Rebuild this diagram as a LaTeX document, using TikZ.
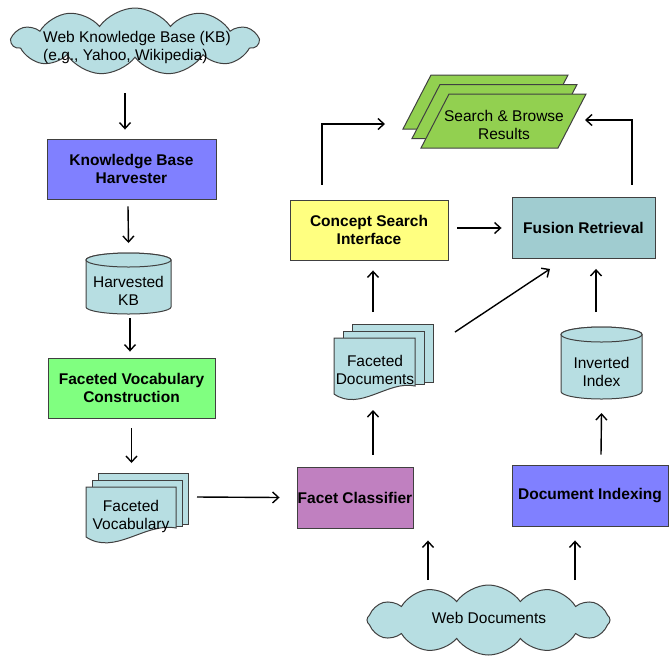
\documentclass[tikz,border=0pt]{standalone}
\usepackage{fontspec}
\setmainfont{Liberation Sans}
\usetikzlibrary{shapes.symbols,arrows.meta}
\definecolor{kbblue}{HTML}{8080FF}
\definecolor{vgreen}{HTML}{80FF80}
\definecolor{cyellow}{HTML}{FFFF80}
\definecolor{fpurple}{HTML}{C080C0}
\definecolor{fteal}{HTML}{A0CCD0}
\definecolor{lteal}{HTML}{B7DEE2}
\definecolor{rgreen}{HTML}{92D050}
\definecolor{edgegray}{HTML}{404040}
\tikzset{
 procbox/.style={draw=edgegray, line width=0.9pt, font=\fontsize{15.5}{18}\selectfont\bfseries, align=center, inner sep=0pt},
 plain/.style={font=\fontsize{15.5}{18}\selectfont, align=center, inner sep=0pt},
 shapeline/.style={draw=edgegray, line width=1pt, fill=lteal},
 bound/.style={inner sep=0pt, outer sep=0pt, draw=none},
 arr/.style={-{Straight Barb[length=6pt,width=11pt]}, line width=1.4pt, black},
 cloudy/.style={cloud, cloud puffs=11, cloud puff arc=110, aspect=3.6, draw=edgegray, line width=1pt, fill=lteal, inner sep=0pt},
 pgram/.style={draw=edgegray, line width=1pt, fill=rgreen},
}
\begin{document}
\begin{tikzpicture}[x=1pt,y=-1pt]
\useasboundingbox (0,0) rectangle (669,657);

% top cloud
\node[cloudy, minimum width=246pt, minimum height=67pt] (kbweb) at (135,41.5) {};
\node[plain, align=left, anchor=west] (kbwebtext) at (43,47) {Web Knowledge Base (KB)\\(e.g., Yahoo, Wikipedia)};

% process boxes
\node[procbox, fill=kbblue, minimum width=169pt, minimum height=60pt] (kbh) at (131.5,169) {Knowledge Base\\Harvester};
\node[procbox, fill=vgreen, minimum width=167pt, minimum height=60pt] (fvc) at (131.5,388) {Faceted Vocabulary\\Construction};
\node[procbox, fill=fpurple, minimum width=116pt, minimum height=61pt] (fc) at (355,497.5) {Facet Classifier};
\node[procbox, fill=kbblue, minimum width=156pt, minimum height=61pt] (di) at (590,495.5) {Document Indexing};
\node[procbox, fill=fteal, minimum width=143pt, minimum height=61pt] (fr) at (583.5,228) {Fusion Retrieval};
\node[procbox, fill=cyellow, minimum width=158pt, minimum height=60pt] (csi) at (369,230) {Concept Search\\Interface};

% Harvested KB cylinder
\draw[shapeline] (86,260) -- (86,307) arc[start angle=180,end angle=360,x radius=42.5pt,y radius=7pt] -- (171,260) arc[start angle=0,end angle=180,x radius=42.5pt,y radius=7pt] -- cycle;
\draw[shapeline] (128.5,260) ellipse [x radius=42.5pt,y radius=7pt];
\node[bound, minimum width=85pt, minimum height=61pt] (hkb) at (128.5,283.5) {};
\node[plain] (hkbtext) at (128.5,291) {Harvested\\KB};

% Inverted Index cylinder
\draw[shapeline] (561,334.5) -- (561,391.5) arc[start angle=180,end angle=360,x radius=40.5pt,y radius=7.5pt] -- (642,334.5) arc[start angle=0,end angle=180,x radius=40.5pt,y radius=7.5pt] -- cycle;
\draw[shapeline] (601.5,334.5) ellipse [x radius=40.5pt,y radius=7.5pt];
\node[bound, minimum width=81pt, minimum height=72pt] (ii) at (601.5,363) {};
\node[plain] (iitext) at (601.5,371.5) {Inverted\\Index};

% Faceted Vocabulary multi-document
\draw[shapeline] (98,473) rectangle (188,524);
\draw[shapeline] (92,480) rectangle (182,526);
\draw[shapeline] (86,487) -- (176,487) -- (176,528) .. controls (145,522) and (115,556) .. (86,537) -- cycle;
\node[bound, minimum width=102pt, minimum height=70pt] (fv) at (137,508) {};
\node[plain] (fvtext) at (131,516) {Faceted\\Vocabulary};

% Faceted Documents multi-document
\draw[shapeline] (352,324) rectangle (433,382);
\draw[shapeline] (343,331) rectangle (424,384);
\draw[shapeline] (334,338) -- (415,338) -- (415,386) .. controls (388,380) and (360,412) .. (334,394) -- cycle;
\node[bound, minimum width=99pt, minimum height=76pt] (fd) at (383.5,362) {};
\node[plain] (fdtext) at (375,369.5) {Faceted\\Documents};

% Search & Browse Results stacked parallelograms
\draw[pgram] (403,129) -- (540,129) -- (568,75) -- (431,75) -- cycle;
\draw[pgram] (412,138.5) -- (549,138.5) -- (577,84.5) -- (440,84.5) -- cycle;
\draw[pgram] (421,148) -- (558,148) -- (586,94) -- (449,94) -- cycle;
\node[bound, minimum width=183pt, minimum height=73pt] (sbr) at (494.5,111.5) {};
\node[plain] (sbrtext) at (504,125) {Search \& Browse\\Results};

% Web Documents cloud
\node[cloudy, cloud puffs=12, minimum width=243pt, minimum height=70pt] (webdocs) at (488.5,620) {};
\node[plain] (webdocstext) at (489,618) {Web Documents};

% connectors
\draw[arr] ([xshift=-10pt,yshift=-51.5pt]kbweb.center) -- ([xshift=-6.5pt,yshift=9pt]kbh.north);
\draw[arr] ([xshift=-3.5pt,yshift=-7pt]kbh.south) -- ([yshift=10pt]hkb.north);
\draw[arr] ([xshift=1.5pt,yshift=-4pt]hkb.south) -- ([xshift=-1.5pt,yshift=6pt]fvc.north);
\draw[arr] ([yshift=-10pt]fvc.south) -- ([xshift=-5.5pt,yshift=10pt]fv.north);
\draw[arr] ([xshift=9pt,yshift=11pt]fv.east) -- ([xshift=-17pt]fc.west);
\draw[arr] ([xshift=-60.5pt,yshift=40pt]webdocs.center) -- ([xshift=73pt,yshift=-12pt]fc.south);
\draw[arr] ([xshift=86.5pt,yshift=40pt]webdocs.center) -- ([xshift=-15pt,yshift=-14pt]di.south);
\draw[arr] ([xshift=11pt,yshift=10pt]di.north) -- ([yshift=-14pt]ii.south);
\draw[arr] ([xshift=-5.5pt,yshift=15pt]ii.north) -- ([xshift=12.5pt,yshift=-10pt]fr.south);
\draw[arr] ([xshift=18pt,yshift=12pt]fc.north) -- ([xshift=-10.5pt,yshift=-10pt]fd.south);
\draw[arr] ([xshift=-10.5pt,yshift=12pt]fd.north) -- ([xshift=4pt,yshift=-10pt]csi.south);
\draw[arr] ([xshift=9pt,yshift=2pt]csi.east) -- ([xshift=-10pt]fr.west);
\draw[arr] ([xshift=22pt,yshift=-8pt]fd.north east) -- ([xshift=-33.5pt,yshift=-10pt]fr.south);
\draw[arr] ([xshift=-47pt,yshift=15pt]csi.north) |- ([xshift=-18pt,yshift=-12.5pt]sbr.west);
\draw[arr] ([xshift=48.5pt,yshift=12.5pt]fr.north) |- ([xshift=-1pt,yshift=-8.5pt]sbr.east);
\end{tikzpicture}
\end{document}
